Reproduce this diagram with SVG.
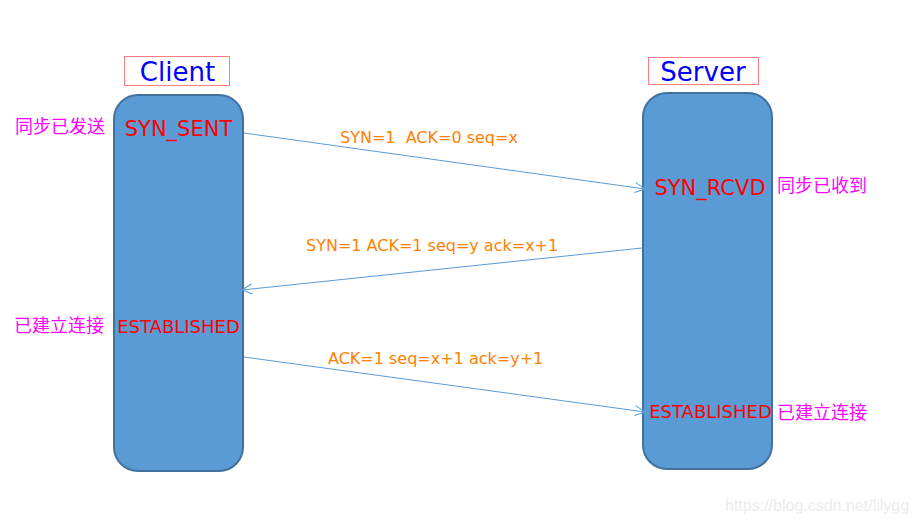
<svg xmlns="http://www.w3.org/2000/svg" width="916" height="524" viewBox="0 0 916 524">
<defs>
<style>
.life{fill:#5b9bd5;stroke:#41719c;stroke-width:2}
.lbl{fill:#fff;stroke:#ff7c80;stroke-width:1}
.title{font-family:"DejaVu Sans",sans-serif;font-size:26px;fill:#0000ff;text-anchor:middle}
.state{font-family:"DejaVu Sans",sans-serif;fill:#ff0000;text-anchor:middle}
.cn{font-family:"Noto Sans CJK SC",sans-serif;font-size:18px;fill:#ff00ff}
.msg{font-family:"DejaVu Sans",sans-serif;font-size:16px;fill:#ff8000}
.conn{stroke:#5b9bd5;stroke-width:1;fill:none;marker-end:url(#arr)}
</style>
<marker id="arr" viewBox="0 0 12 12" refX="11" refY="6" markerWidth="12" markerHeight="12" markerUnits="userSpaceOnUse" orient="auto">
<path d="M1,1 L11,6 L1,11" fill="none" stroke="#5b9bd5" stroke-width="1"/>
</marker>
</defs>
<rect width="916" height="524" fill="#fff"/>
<g id="client">
<rect class="lbl" x="124.5" y="56.5" width="105" height="29"/>
<text class="title" x="177.5" y="81">Client</text>
<rect class="life" x="114" y="95" width="129" height="376" rx="24"/>
<text class="state" x="178.5" y="136" font-size="21">SYN_SENT</text>
<text class="state" x="178.5" y="333" font-size="18">ESTABLISHED</text>
<text class="cn" x="15" y="133">同步已发送</text>
<text class="cn" x="14" y="332">已建立连接</text>
</g>
<g id="server">
<rect class="lbl" x="648.5" y="57.5" width="110" height="27"/>
<text class="title" x="703" y="81">Server</text>
<rect class="life" x="643" y="93" width="129" height="376" rx="24"/>
<text class="state" x="710" y="195" font-size="21">SYN_RCVD</text>
<text class="state" x="710.5" y="418" font-size="18">ESTABLISHED</text>
<text class="cn" x="777" y="192">同步已收到</text>
<text class="cn" x="777" y="419">已建立连接</text>
</g>
<g id="connectors">
<line class="conn" x1="244" y1="133" x2="645" y2="189"/>
<line class="conn" x1="642" y1="248" x2="242" y2="290"/>
<line class="conn" x1="244" y1="357" x2="645" y2="412"/>
<text class="msg" x="340" y="143" xml:space="preserve">SYN=1  ACK=0 seq=x</text>
<text class="msg" x="306" y="251">SYN=1 ACK=1 seq=y ack=x+1</text>
<text class="msg" x="328" y="364">ACK=1 seq=x+1 ack=y+1</text>
</g>
<text x="725" y="511" font-family="Liberation Sans,Arial,sans-serif" font-size="16" fill="#ececec">https://blog.csdn.net/lilygg</text>
</svg>
